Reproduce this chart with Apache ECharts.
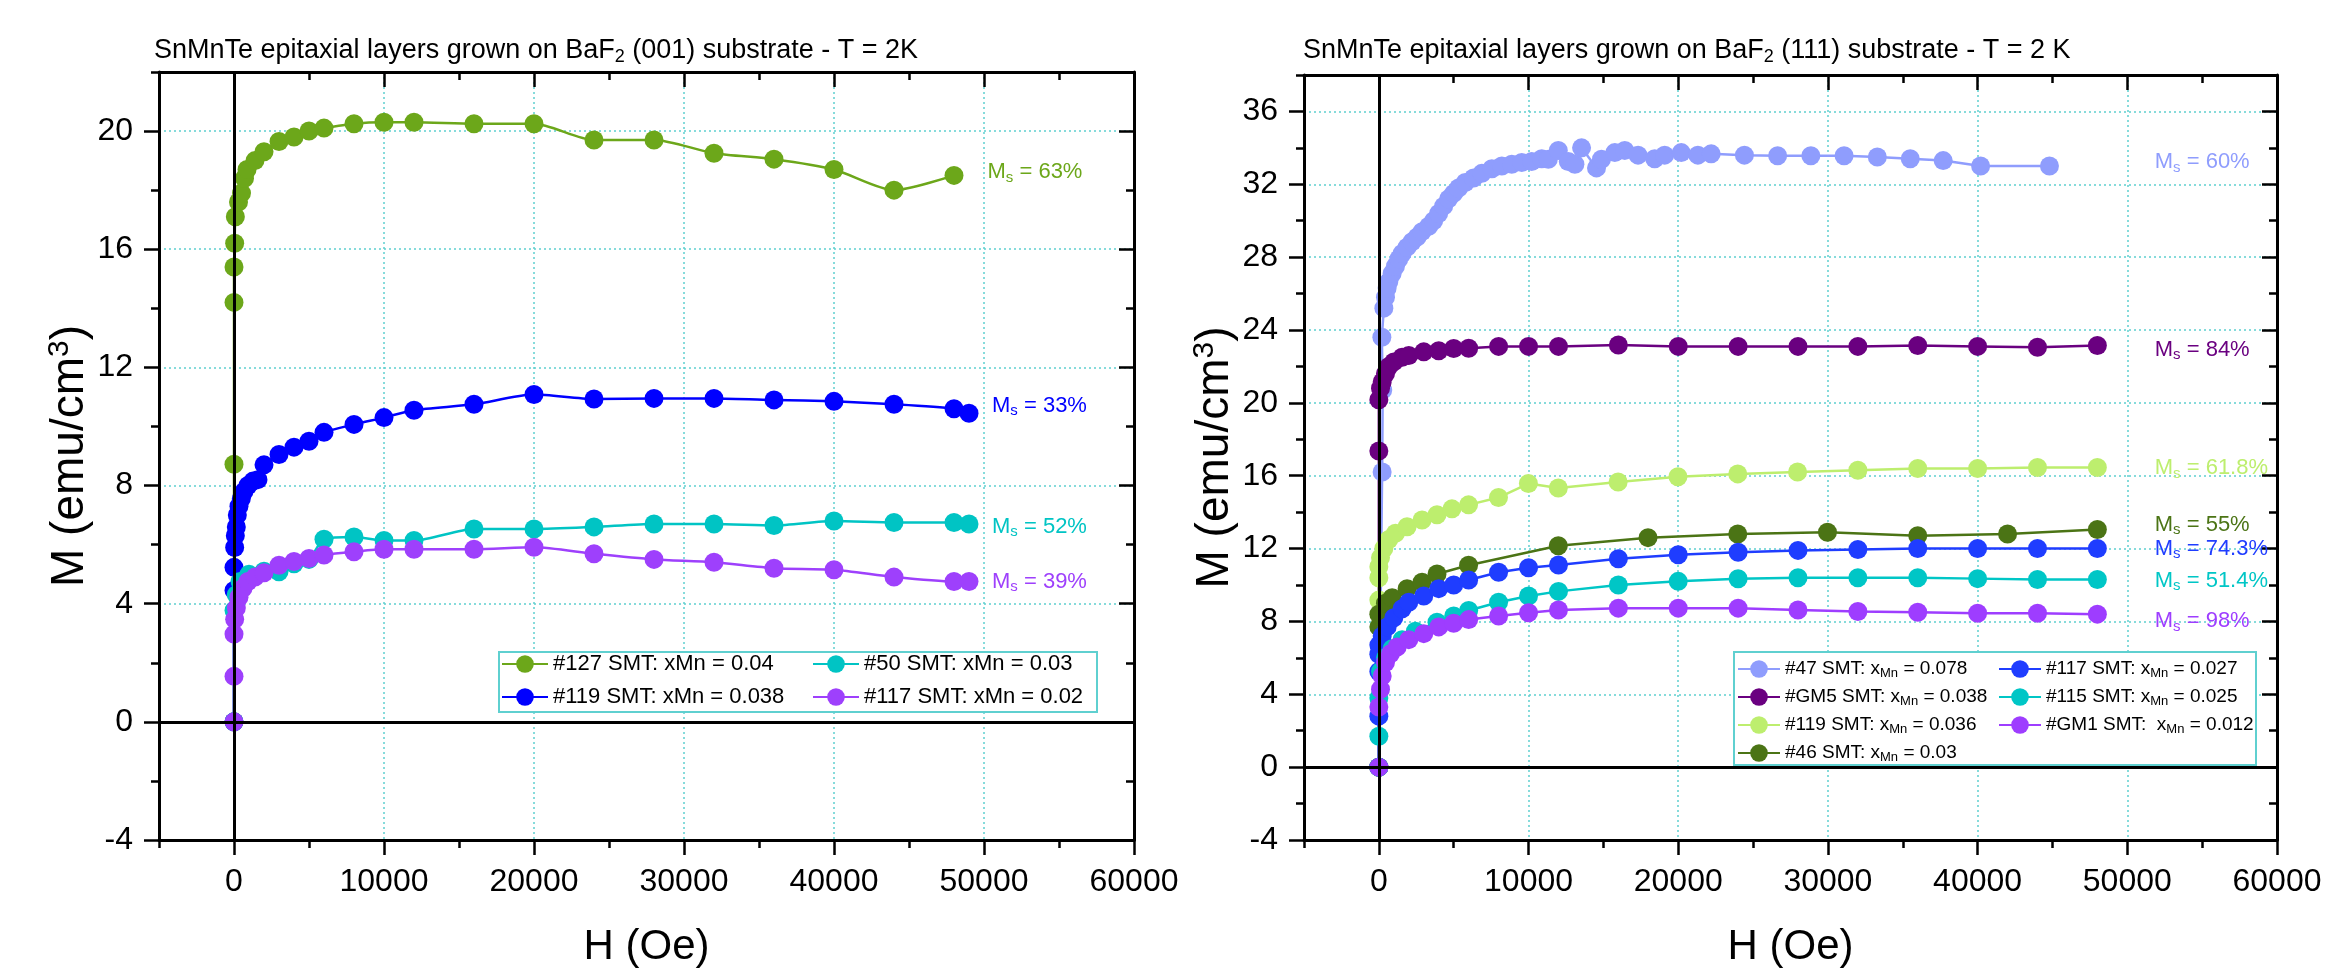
<!DOCTYPE html>
<html><head><meta charset="utf-8">
<script src="https://cdn.jsdelivr.net/npm/echarts@6/dist/echarts.min.js"></script>
<style>html,body{margin:0;padding:0;background:#fff}#c{width:2335px;height:973px}</style>
</head><body><div id="c"></div><script>
// ---------- DATA ----------
const xTickValues = [0, 10000, 20000, 30000, 40000, 50000, 60000];
const yTickValuesL = [-4, 0, 4, 8, 12, 16, 20];
const yTickValuesR = [-4, 0, 4, 8, 12, 16, 20, 24, 28, 32, 36];

// Left panel: BaF2 (001)
const namesL = ['#127 SMT: xMn = 0.04', '#119 SMT: xMn = 0.038', '#50 SMT: xMn = 0.03', '#117 SMT: xMn = 0.02'];
const colorsL = ['#6ca71a', '#0000ff', '#00c4c4', '#9e40fc'];
const H127 = [0,0,0,0,45,90,300,500,700,870,1400,2000,3000,4000,5000,6000,8000,10000,12000,16000,20000,24000,28000,32000,36000,40000,44000,48000];
const M127 = [0,8.72,14.2,15.4,16.2,17.1,17.6,17.9,18.4,18.7,19.0,19.3,19.65,19.8,20.0,20.1,20.25,20.3,20.3,20.25,20.25,19.7,19.7,19.25,19.05,18.7,18.0,18.5];
const H119 = [0,0,0,44,89,155,222,333,488,666,932,1265,1598,2000,3000,4000,5000,6000,8000,10000,12000,16000,20000,24000,28000,32000,36000,40000,44000,48000,49000];
const M119 = [0,4.45,5.23,5.9,6.3,6.6,7.0,7.3,7.55,7.8,8.0,8.15,8.2,8.7,9.05,9.3,9.5,9.8,10.07,10.3,10.55,10.75,11.08,10.93,10.95,10.95,10.9,10.85,10.75,10.6,10.45];
const H50 = [0,0,150,400,1000,2000,3000,4000,5000,6000,8000,10000,12000,16000,20000,24000,28000,32000,36000,40000,44000,48000,49000];
const M50 = [0,3.77,4.3,4.75,5.0,5.1,5.08,5.35,5.5,6.18,6.26,6.14,6.14,6.53,6.53,6.6,6.7,6.7,6.65,6.8,6.75,6.75,6.7];
const H117 = [0,0,0,44,155,333,600,932,1400,2000,3000,4000,5000,6000,8000,10000,12000,16000,20000,24000,28000,32000,36000,40000,44000,48000,49000];
const M117 = [0,1.54,2.97,3.47,3.85,4.22,4.52,4.75,4.9,5.05,5.3,5.43,5.53,5.65,5.76,5.84,5.84,5.84,5.91,5.69,5.5,5.4,5.2,5.15,4.9,4.75,4.75];
const msTextL = ['63%', '33%', '52%', '39%'];
const msAnchorHL = [50200, 50500, 50500, 50500];
const msAnchorML = [18.6, 10.7, 6.6, 4.75];

// Right panel: BaF2 (111)
const namesR = ['#47 SMT: xMn = 0.078', '#GM5 SMT: xMn = 0.038', '#119 SMT: xMn = 0.036', '#46 SMT: xMn = 0.03',
                '#117 SMT: xMn = 0.027', '#115 SMT: xMn = 0.025', '#GM1 SMT:  xMn = 0.012'];
const colorsR = ['#8f9dfd', '#6a0080', '#bdee6e', '#4b7415', '#1f3dff', '#00c6c6', '#9e3dff'];
const H47 = [0,220,260,200,333,444,555,666,888,1110,1332,1554,1887,2220,2553,2886,3330,3663,3996,4329,4662,4995,5328,5772,6327,6882,7548,8214,8880,9546,10212,10878,11322,11988,12654,13098,13542,14541,14874,15762,16428,17316,18426,19092,20202,21312,22200,24420,26640,28860,31080,33300,35500,37700,40200,44800];
const M47 = [0,16.2,20.7,23.6,25.2,25.8,26.3,26.65,27.1,27.5,27.9,28.2,28.55,28.85,29.1,29.4,29.7,30.0,30.4,30.8,31.2,31.5,31.8,32.1,32.35,32.6,32.85,33.0,33.1,33.2,33.25,33.4,33.37,33.86,33.25,33.1,34.0,32.9,33.37,33.74,33.86,33.6,33.4,33.6,33.74,33.6,33.67,33.6,33.57,33.57,33.57,33.5,33.4,33.3,33.0,33.0];
const HGM5 = [0,0,0,111,222,444,666,1000,1554,2000,3000,4000,5000,6000,8000,10000,12000,16000,20000,24000,28000,32000,36000,40000,44000,48000];
const MGM5 = [0,17.36,20.17,20.8,21.15,21.6,22.0,22.25,22.5,22.6,22.8,22.86,22.98,23.0,23.1,23.1,23.1,23.18,23.1,23.1,23.1,23.1,23.15,23.1,23.05,23.15];
const H119r = [0,0,0,0,111,333,666,1110,1887,2886,3885,4884,5994,7992,9990,11988,15984,19980,23976,27972,32000,36000,40000,44000,48000];
const M119r = [0,9.17,10.4,11.0,11.5,12.0,12.5,12.84,13.2,13.57,13.86,14.18,14.4,14.8,15.57,15.33,15.65,15.94,16.1,16.2,16.3,16.4,16.4,16.45,16.45];
const H46 = [0,0,0,444,888,1887,2886,3885,5994,11988,17982,23976,29970,36000,42000,48000];
const M46 = [0,7.7,8.4,9.0,9.3,9.8,10.15,10.6,11.08,12.15,12.6,12.8,12.9,12.7,12.8,13.05];
const H117r = [0,0,0,0,0,222,555,1000,1554,2000,3000,4000,5000,6000,8000,10000,12000,16000,20000,24000,28000,32000,36000,40000,44000,48000];
const M117r = [0,2.8,5.25,6.2,6.7,7.2,7.7,8.2,8.7,9.05,9.4,9.8,10.0,10.27,10.7,10.95,11.1,11.44,11.66,11.8,11.9,11.95,12.0,12.0,12.0,12.0];
const H115 = [0,0,0,111,444,888,1554,2442,3885,5000,6000,8000,10000,12000,16000,20000,24000,28000,32000,36000,40000,44000,48000];
const M115 = [0,1.7,3.8,5.25,6.0,6.5,7.0,7.46,7.95,8.3,8.6,9.05,9.4,9.65,10.0,10.2,10.34,10.4,10.4,10.4,10.35,10.3,10.3];
const HGM1 = [0,0,111,222,444,777,1221,2000,3000,4000,5000,6000,8000,10000,12000,16000,20000,24000,28000,32000,36000,40000,44000,48000];
const MGM1 = [0,3.3,4.28,5.0,5.75,6.23,6.6,7.0,7.33,7.7,7.9,8.1,8.3,8.48,8.63,8.73,8.73,8.73,8.63,8.55,8.5,8.45,8.45,8.4];
const msTextR = ['60%', '84%', '61.8%', '55%', '74.3%', '51.4%', '98%'];
const msAnchorHR = [51800, 51800, 51800, 51800, 51800, 51800, 51800];
const msAnchorMR = [33.2, 22.9, 16.4, 13.3, 12.0, 10.25, 8.0];

const titleL = ['SnMnTe epitaxial layers grown on BaF', '2', ' (001) substrate - T = 2K'];
const titleR = ['SnMnTe epitaxial layers grown on BaF', '2', ' (111) substrate - T = 2 K'];

// ---------- BUILD ----------
const FONT = '"Liberation Sans", Arial, Helvetica, sans-serif';
const zip = (h, m) => h.map((v, i) => [v, m[i]]);
const seriesL = [zip(H127, M127), zip(H119, M119), zip(H50, M50), zip(H117, M117)];
const seriesR = [zip(H47, M47), zip(HGM5, MGM5), zip(H119r, M119r), zip(H46, M46), zip(H117r, M117r), zip(H115, M115), zip(HGM1, MGM1)];

const GRIDLINE = {show: true, lineStyle: {color: '#5fd0d0', type: [2, 3], width: 1.5}};
const AXLINE = {show: true, onZero: false, lineStyle: {color: '#000', width: 3}};
const plain = v => String(v);

const xAxes = [], yAxes = [];
function addX(gi, pos, major, labels) {
  const inside = pos === 'top';
  const a = {gridIndex: gi, type: 'value', position: pos, min: -5000, max: 60000};
  if (major) Object.assign(a, {
    axisLine: AXLINE,
    axisTick: {show: true, inside, length: 15, lineStyle: {color: '#000', width: 2.5}, customValues: xTickValues},
    axisLabel: labels ? {show: true, customValues: xTickValues, formatter: plain, fontSize: 32, color: '#000', fontFamily: FONT, margin: 26} : {show: false},
    splitLine: labels ? GRIDLINE : {show: false},
    name: labels ? 'H (Oe)' : '', nameLocation: 'middle', nameGap: 86,
    nameTextStyle: {fontSize: 42, color: '#000', fontFamily: FONT}
  });
  else Object.assign(a, {
    interval: 5000, axisLine: {show: false, onZero: false},
    axisTick: {show: true, inside, length: 8, lineStyle: {color: '#000', width: 2.5}},
    axisLabel: {show: false}, splitLine: {show: false}
  });
  xAxes.push(a); return xAxes.length - 1;
}
function addY(gi, pos, major, labels, ymin, ymax, ticks) {
  const inside = pos === 'right';
  const a = {gridIndex: gi, type: 'value', position: pos, min: ymin, max: ymax};
  if (major) Object.assign(a, {
    axisLine: AXLINE,
    axisTick: {show: true, inside, length: 15, lineStyle: {color: '#000', width: 2.5}, customValues: ticks},
    axisLabel: labels ? {show: true, customValues: ticks, formatter: plain, fontSize: 32, color: '#000', fontFamily: FONT, margin: 26} : {show: false},
    splitLine: labels ? GRIDLINE : {show: false},
    name: labels ? '{a|M (emu/cm}{b|3}{a|)}' : '', nameLocation: 'middle', nameGap: 64, nameRotate: 90,
    nameTextStyle: {color: '#000', fontFamily: FONT, rich: {
      a: {fontSize: 46, color: '#000', fontFamily: FONT},
      b: {fontSize: 30, color: '#000', fontFamily: FONT, padding: [0, 0, 20, 0]}}}
  });
  else Object.assign(a, {
    interval: 2, axisLine: {show: false, onZero: false},
    axisTick: {show: true, inside, length: 8, lineStyle: {color: '#000', width: 2.5}},
    axisLabel: {show: false}, splitLine: {show: false}
  });
  yAxes.push(a); return yAxes.length - 1;
}

const grids = [
  {left: 159, top: 72, width: 975, height: 770},
  {left: 1304, top: 75, width: 973, height: 767}
];
const axIdx = [];
[[ -4, 22, yTickValuesL], [-4, 38, yTickValuesR]].forEach(([mn, mx, tk], gi) => {
  const xb = addX(gi, 'bottom', true, true);
  addX(gi, 'bottom', false); addX(gi, 'top', true, false); addX(gi, 'top', false);
  const yl = addY(gi, 'left', true, true, mn, mx, tk);
  addY(gi, 'left', false, false, mn, mx); addY(gi, 'right', true, false, mn, mx, tk); addY(gi, 'right', false, false, mn, mx);
  axIdx.push([xb, yl]);
});

const series = [];
axIdx.forEach(([xi, yi]) => {
  series.push({type: 'line', xAxisIndex: xi, yAxisIndex: yi, data: [], silent: true, z: 1,
    markLine: {silent: true, symbol: 'none', animation: false, label: {show: false},
      lineStyle: {color: '#000', width: 3, type: 'solid'}, data: [{xAxis: 0}, {yAxis: 0}]}});
});

function msLabel(txt, color, h, m) {
  return {silent: true, symbol: 'circle', symbolSize: 1, itemStyle: {color: 'rgba(0,0,0,0)'},
    data: [{coord: [h, m]}],
    label: {show: true, position: 'right', distance: 0, formatter: '{m|M}{s|s}{m| = ' + txt + '}',
      rich: {m: {fontSize: 22, color, fontFamily: FONT}, s: {fontSize: 15, color, fontFamily: FONT, padding: [10, 0, 0, 0]}}}};
}
function addSeries(names, datas, colors, txts, ah, am, gi, smooth) {
  names.forEach((n, i) => {
    series.push({type: 'line', name: n, xAxisIndex: axIdx[gi][0], yAxisIndex: axIdx[gi][1], data: datas[i],
      smooth, symbol: 'circle', symbolSize: 19, showAllSymbol: true, z: 2,
      lineStyle: {color: colors[i], width: 2.5}, itemStyle: {color: colors[i]},
      markPoint: msLabel(txts[i], colors[i], ah[i], am[i])});
  });
}
addSeries(namesL, seriesL, colorsL, msTextL, msAnchorHL, msAnchorML, 0, 0.25);
addSeries(namesR, seriesR, colorsR, msTextR, msAnchorHR, msAnchorMR, 1, false);

const legBase = {orient: 'vertical', itemWidth: 46, itemHeight: 22, selectedMode: false, padding: 0, z: 5};
const fmtL = n => n;
const fmtR = n => { const p = n.split('xMn'); return '{n|' + p[0] + 'x}{s|Mn}{n|' + p[1] + '}'; };
const richR = {n: {fontSize: 19, color: '#000', fontFamily: FONT}, s: {fontSize: 13, color: '#000', fontFamily: FONT, padding: [9, 0, 0, 0]}};
const legends = [
  Object.assign({}, legBase, {left: 501, top: 653, itemGap: 11, data: [namesL[0], namesL[1]], formatter: fmtL,
    textStyle: {fontSize: 22, lineHeight: 22, color: '#000', fontFamily: FONT}}),
  Object.assign({}, legBase, {left: 812, top: 653, itemGap: 11, data: [namesL[2], namesL[3]], formatter: fmtL,
    textStyle: {fontSize: 22, lineHeight: 22, color: '#000', fontFamily: FONT}}),
  Object.assign({}, legBase, {left: 1737, top: 658, itemGap: 6, itemWidth: 42, data: namesR.slice(0, 4), formatter: fmtR,
    textStyle: {fontSize: 19, lineHeight: 22, color: '#000', fontFamily: FONT, rich: richR}}),
  Object.assign({}, legBase, {left: 1998, top: 658, itemGap: 6, itemWidth: 42, data: namesR.slice(4), formatter: fmtR,
    textStyle: {fontSize: 19, lineHeight: 22, color: '#000', fontFamily: FONT, rich: richR}})
];

const titleRich = {a: {fontSize: 27, fontWeight: 'normal', color: '#000', fontFamily: FONT},
  b: {fontSize: 18, fontWeight: 'normal', color: '#000', fontFamily: FONT, padding: [12, 0, 0, 0]}};
const mkTitle = (t, left) => ({left, top: 36, text: '{a|' + t[0] + '}{b|' + t[1] + '}{a|' + t[2] + '}',
  textStyle: {fontWeight: 'normal', rich: titleRich}, padding: 0});

const chart = echarts.init(document.getElementById('c'), null, {renderer: 'canvas'});
chart.setOption({
  animation: false,
  backgroundColor: '#fff',
  textStyle: {fontFamily: FONT},
  title: [mkTitle(titleL, 154), mkTitle(titleR, 1303)],
  grid: grids,
  xAxis: xAxes,
  yAxis: yAxes,
  legend: legends,
  graphic: [
    {type: 'rect', z: 3, shape: {x: 499, y: 652, width: 598, height: 60}, style: {fill: '#fff', stroke: '#5fd0d0', lineWidth: 2}},
    {type: 'rect', z: 3, shape: {x: 1734, y: 652, width: 522, height: 113}, style: {fill: '#fff', stroke: '#5fd0d0', lineWidth: 2}}
  ],
  series
});
</script></body></html>
